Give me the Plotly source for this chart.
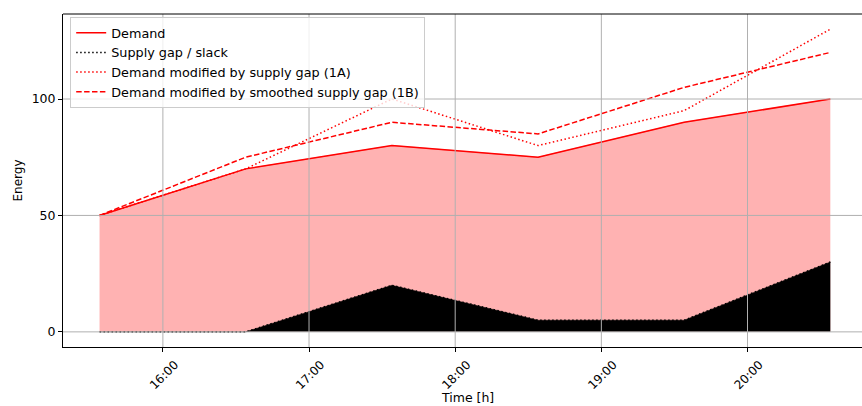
import plotly.graph_objects as go

# ---- data ----
times = ["2024-01-01 15:34", "2024-01-01 16:34", "2024-01-01 17:34",
         "2024-01-01 18:34", "2024-01-01 19:34", "2024-01-01 20:34"]
demand = [50, 70, 80, 75, 90, 100]
supply_gap = [0, 0, 20, 5, 5, 30]
demand_1a = [50, 70, 100, 80, 95, 130]
demand_1b = [50, 75, 90, 85, 105, 120]
x_tick_vals = ["2024-01-01 16:00", "2024-01-01 17:00", "2024-01-01 18:00",
               "2024-01-01 19:00", "2024-01-01 20:00"]
x_tick_text = ["16:00", "17:00", "18:00", "19:00", "20:00"]
y_tick_vals = [0, 50, 100]

FONT = "DejaVu Sans"
DOT = "1.5px,2.5px"
DASH = "5.5px,2.4px"
fig = go.Figure()

# fills
fig.add_trace(go.Scatter(x=times, y=demand, mode="lines", fill="tozeroy",
                         fillcolor="rgba(255,0,0,0.3)",
                         line=dict(color="rgba(255,0,0,0.3)", width=1),
                         showlegend=False, hoverinfo="skip"))
fig.add_trace(go.Scatter(x=times, y=supply_gap, mode="lines", fill="tozeroy",
                         fillcolor="black",
                         line=dict(color="black", width=0.5),
                         showlegend=False, hoverinfo="skip"))
# lines
fig.add_trace(go.Scatter(x=times, y=demand, mode="lines", name="Demand",
                         line=dict(color="red", width=1.5)))
fig.add_trace(go.Scatter(x=times, y=supply_gap, mode="lines", name="Supply gap / slack",
                         line=dict(color="black", width=1.5, dash=DOT)))
fig.add_trace(go.Scatter(x=times, y=demand_1a, mode="lines",
                         name="Demand modified by supply gap (1A)",
                         line=dict(color="red", width=1.5, dash=DOT)))
fig.add_trace(go.Scatter(x=times, y=demand_1b, mode="lines",
                         name="Demand modified by smoothed supply gap (1B)",
                         line=dict(color="red", width=1.5, dash=DASH)))

# grid lines drawn over the fills
shapes = []
for xv in x_tick_vals:
    shapes.append(dict(type="line", xref="x", yref="paper", x0=xv, x1=xv, y0=0, y1=1,
                       line=dict(color="#b0b0b0", width=1), layer="above"))
for yv in y_tick_vals:
    shapes.append(dict(type="line", xref="paper", yref="y", x0=0, x1=1, y0=yv, y1=yv,
                       line=dict(color="#b0b0b0", width=1), layer="above"))
# top spine
shapes.append(dict(type="line", xref="paper", yref="paper", x0=0, x1=1, y0=1, y1=1,
                   line=dict(color="black", width=1), layer="above"))

fig.update_layout(
    width=862, height=406,
    margin=dict(l=63, r=0, t=14, b=59),
    plot_bgcolor="white", paper_bgcolor="white",
    font=dict(family=FONT, size=12, color="black"),
    shapes=shapes,
    showlegend=True,
    legend=dict(x=0.009, y=0.991, xanchor="left", yanchor="top",
                bgcolor="rgba(255,255,255,0.8)", bordercolor="#cccccc", borderwidth=1,
                font=dict(family=FONT, size=12.8), tracegroupgap=0, itemwidth=30),
    annotations=[dict(text="Time [h]", xref="paper", yref="paper", x=0.506, y=-0.153,
                      xanchor="center", yanchor="middle", showarrow=False,
                      font=dict(family=FONT, size=12.5))],
)
fig.update_xaxes(type="date", range=["2024-01-01 15:19", "2024-01-01 20:47"],
                 tickvals=x_tick_vals, ticktext=x_tick_text, tickangle=-45,
                 showgrid=False, zeroline=False, automargin=False,
                 showline=True, linecolor="black", linewidth=1,
                 ticks="outside", ticklen=4, tickcolor="black",
                 ticklabelshift=12, ticklabelstandoff=1,
                 tickfont=dict(family=FONT, size=12))
fig.update_yaxes(range=[-6.5, 136.5], tickvals=y_tick_vals,
                 showgrid=False, zeroline=False, automargin=False,
                 showline=True, linecolor="black", linewidth=1,
                 ticks="outside", ticklen=4, tickcolor="black",
                 tickfont=dict(family=FONT, size=12.5),
                 title=dict(text="Energy", font=dict(family=FONT, size=12), standoff=6))

fig.write_html("out.html")
